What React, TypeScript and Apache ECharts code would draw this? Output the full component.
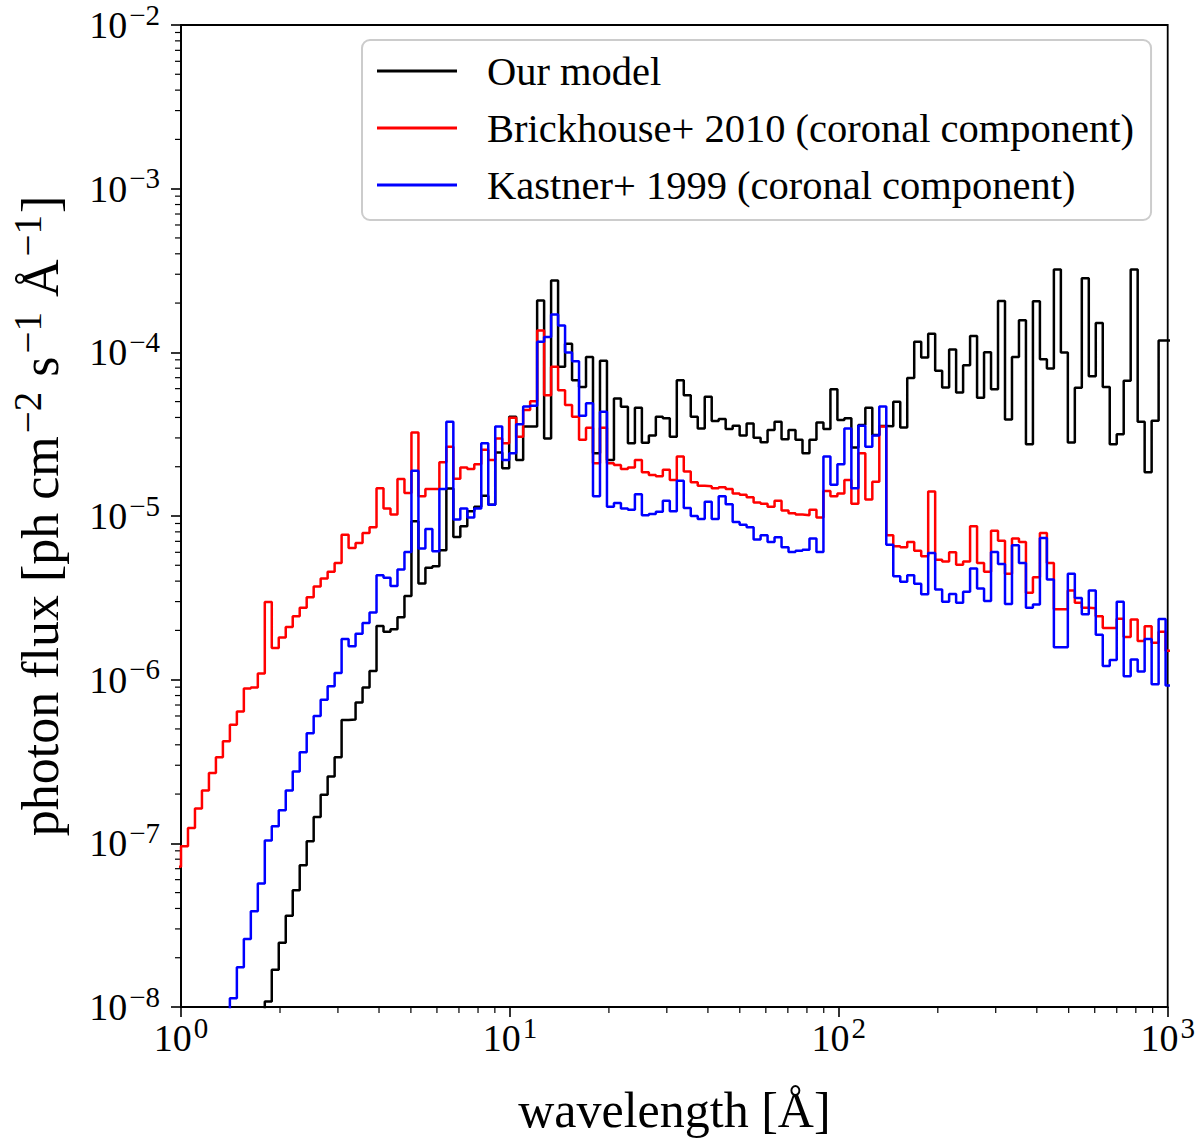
import React, { useEffect, useRef } from 'react'
import * as echarts from 'echarts'

// spectra are histograms on log-spaced wavelength bins (about 47 per decade),
// first value belongs to bin -1 (just left of 1 Å)
const binsPerDecade = 47.1
const firstBin = -1

const seriesNames = [
  'Our model',
  'Brickhouse+ 2010 (coronal component)',
  'Kastner+ 1999 (coronal component)',
]
const seriesColors = ['#000000', '#ff0000', '#0000ff']

const ourModel = [
  4.3e-11, 6.5e-11, 1.0e-10, 1.5e-10, 2.3e-10, 3.6e-10, 5.5e-10, 8.5e-10, 1.3e-9, 2.0e-9,
  3.0e-9, 4.6e-9, 7.0e-9, 1.08e-8, 1.69e-8, 2.47e-8, 3.61e-8, 5.17e-8, 7.35e-8, 1.03e-7,
  1.45e-7, 1.98e-7, 2.56e-7, 3.36e-7, 5.67e-7, 5.71e-7, 7.26e-7, 8.96e-7, 1.13e-6, 2.13e-6,
  1.96e-6, 2.03e-6, 2.41e-6, 3.24e-6, 9.28e-6, 3.87e-6, 4.82e-6, 4.93e-6, 6.17e-6, 1.47e-5,
  7.43e-6, 8.65e-6, 1.07e-5, 1.14e-5, 1.33e-5, 1.17e-5, 2.44e-5, 1.96e-5, 4.04e-5, 2.2e-5,
  3.52e-5, 3.52e-5, 2.07e-4, 2.98e-5, 2.75e-4, 8.15e-5, 1.13e-4, 6.76e-5, 6.15e-5, 9.37e-5,
  2.42e-5, 8.87e-5, 2.2e-5, 5.22e-5, 4.65e-5, 2.78e-5, 4.59e-5, 2.8e-5, 3.1e-5, 4.04e-5,
  3.95e-5, 3.05e-5, 6.76e-5, 5.47e-5, 4.04e-5, 3.43e-5, 5.35e-5, 3.8e-5, 3.91e-5, 3.4e-5,
  3.56e-5, 3.1e-5, 3.68e-5, 3.01e-5, 2.82e-5, 3.35e-5, 3.77e-5, 2.94e-5, 3.35e-5, 2.92e-5,
  2.42e-5, 2.92e-5, 3.73e-5, 3.4e-5, 5.95e-5, 3.86e-5, 3.95e-5, 2.62e-5, 3.6e-5, 4.58e-5,
  3.13e-5, 3.55e-5, 3.53e-5, 4.99e-5, 3.47e-5, 6.97e-5, 1.16e-4, 9.29e-5, 1.3e-4, 7.71e-5,
  6.1e-5, 1.04e-4, 5.69e-5, 8.34e-5, 1.26e-4, 5.27e-5, 1.0e-4, 5.95e-5, 2.06e-4, 3.89e-5,
  9.37e-5, 1.57e-4, 2.74e-5, 2.05e-4, 9.08e-5, 7.96e-5, 3.21e-4, 9.96e-5, 2.81e-5, 6.07e-5,
  2.84e-4, 7.15e-5, 1.51e-4, 6.15e-5, 2.74e-5, 3.16e-5, 6.7e-5, 3.21e-4, 3.77e-5, 1.85e-5,
  3.82e-5, 1.18e-4, 1.18e-4,
]

const brickhouse2010 = [
  7.2e-8, 9.6e-8, 1.24e-7, 1.63e-7, 2.1e-7, 2.69e-7, 3.36e-7, 4.2e-7, 5.31e-7, 6.4e-7,
  8.83e-7, 8.96e-7, 1.09e-6, 2.98e-6, 1.56e-6, 1.81e-6, 2.1e-6, 2.44e-6, 2.75e-6, 3.19e-6,
  3.71e-6, 4.15e-6, 4.56e-6, 5.17e-6, 7.69e-6, 6.38e-6, 6.84e-6, 7.87e-6, 8.53e-6, 1.48e-5,
  1.11e-5, 1.02e-5, 1.68e-5, 1.38e-5, 3.24e-5, 1.32e-5, 1.46e-5, 1.46e-5, 2.13e-5, 2.65e-5,
  1.69e-5, 1.98e-5, 1.94e-5, 2.07e-5, 2.54e-5, 2.2e-5, 2.98e-5, 2.78e-5, 3.98e-5, 3.05e-5,
  4.44e-5, 5.02e-5, 1.36e-4, 5.47e-5, 8.15e-5, 5.87e-5, 4.76e-5, 4.04e-5, 2.92e-5, 3.46e-5,
  2.1e-5, 3.46e-5, 2.1e-5, 2.05e-5, 1.94e-5, 1.98e-5, 2.2e-5, 1.85e-5, 1.78e-5, 1.75e-5,
  1.92e-5, 1.66e-5, 2.31e-5, 1.87e-5, 1.61e-5, 1.53e-5, 1.52e-5, 1.48e-5, 1.5e-5, 1.46e-5,
  1.37e-5, 1.35e-5, 1.3e-5, 1.21e-5, 1.19e-5, 1.14e-5, 1.24e-5, 1.08e-5, 1.04e-5, 1.02e-5,
  1.01e-5, 1.09e-5, 9.8e-6, 1.42e-5, 1.32e-5, 1.37e-5, 1.66e-5, 1.19e-5, 2.42e-5, 1.26e-5,
  1.62e-5, 3.52e-5, 7.62e-6, 6.53e-6, 6.44e-6, 6.93e-6, 6.14e-6, 5.67e-6, 1.41e-5, 5.41e-6,
  5.28e-6, 6.0e-6, 5.04e-6, 5.28e-6, 8.65e-6, 5.17e-6, 4.56e-6, 8.13e-6, 7.06e-6, 4.43e-6,
  7.28e-6, 6.93e-6, 3.4e-6, 4.23e-6, 7.87e-6, 5.17e-6, 2.69e-6, 2.69e-6, 3.51e-6, 2.95e-6,
  2.75e-6, 2.73e-6, 2.44e-6, 2.07e-6, 2.07e-6, 2.36e-6, 1.82e-6, 2.33e-6, 1.72e-6, 2.12e-6,
  1.68e-6, 1.96e-6, 1.5e-6,
]

const kastner1999 = [
  4.3e-10, 6.5e-10, 1.0e-9, 1.5e-9, 2.2e-9, 3.3e-9, 5.0e-9, 7.5e-9, 1.13e-8, 1.75e-8,
  2.6e-8, 3.85e-8, 5.69e-8, 1.04e-7, 1.27e-7, 1.59e-7, 2.1e-7, 2.75e-7, 3.6e-7, 4.7e-7,
  6.0e-7, 7.54e-7, 9.13e-7, 1.1e-6, 1.77e-6, 1.6e-6, 1.91e-6, 2.22e-6, 2.57e-6, 4.35e-6,
  4.19e-6, 3.73e-6, 4.71e-6, 6.03e-6, 1.89e-5, 6.32e-6, 8.32e-6, 6.08e-6, 1.46e-5, 3.77e-5,
  9.51e-6, 1.11e-5, 9.8e-6, 1.11e-5, 2.78e-5, 1.17e-5, 3.52e-5, 2.2e-5, 2.42e-5, 3.63e-5,
  4.66e-5, 4.71e-5, 1.16e-4, 1.24e-4, 1.7e-4, 1.46e-4, 9.96e-5, 8.83e-5, 4.1e-5, 4.88e-5,
  1.32e-5, 4.34e-5, 1.14e-5, 1.2e-5, 1.11e-5, 1.09e-5, 1.36e-5, 1.01e-5, 1.03e-5, 1.06e-5,
  1.24e-5, 1.07e-5, 1.64e-5, 1.12e-5, 1.0e-5, 9.6e-6, 1.22e-5, 9.6e-6, 1.32e-5, 1.18e-5,
  9.18e-6, 8.85e-6, 8.53e-6, 7.18e-6, 7.62e-6, 6.93e-6, 7.41e-6, 6.44e-6, 6.03e-6, 6.14e-6,
  6.23e-6, 7.28e-6, 6.03e-6, 2.31e-5, 1.55e-5, 2.07e-5, 3.43e-5, 1.48e-5, 3.56e-5, 2.65e-5,
  3.1e-5, 4.66e-5, 6.68e-6, 4.29e-6, 3.96e-6, 4.35e-6, 3.85e-6, 3.32e-6, 5.94e-6, 3.56e-6,
  2.99e-6, 3.34e-6, 2.95e-6, 3.44e-6, 4.78e-6, 3.6e-6, 3.02e-6, 6.03e-6, 5.09e-6, 2.9e-6,
  6.62e-6, 5.17e-6, 2.75e-6, 2.88e-6, 7.34e-6, 4.09e-6, 1.58e-6, 1.58e-6, 4.43e-6, 3.16e-6,
  2.51e-6, 3.51e-6, 1.88e-6, 1.21e-6, 1.32e-6, 2.99e-6, 1.05e-6, 1.33e-6, 1.12e-6, 1.77e-6,
  9.38e-7, 2.35e-6, 9.2e-7,
]

const xMinorTicks = [
  2, 3, 4, 5, 6, 7, 8, 9,
  20, 30, 40, 50, 60, 70, 80, 90,
  200, 300, 400, 500, 600, 700, 800, 900,
]
const yMinorTicks = [
  2e-8, 3e-8, 4e-8, 5e-8, 6e-8, 7e-8, 8e-8, 9e-8,
  2e-7, 3e-7, 4e-7, 5e-7, 6e-7, 7e-7, 8e-7, 9e-7,
  2e-6, 3e-6, 4e-6, 5e-6, 6e-6, 7e-6, 8e-6, 9e-6,
  2e-5, 3e-5, 4e-5, 5e-5, 6e-5, 7e-5, 8e-5, 9e-5,
  2e-4, 3e-4, 4e-4, 5e-4, 6e-4, 7e-4, 8e-4, 9e-4,
  2e-3, 3e-3, 4e-3, 5e-3, 6e-3, 7e-3, 8e-3, 9e-3,
]

const fontFamily = '"Liberation Serif", "DejaVu Serif", serif'

const binEdge = (k: number) => Math.pow(10, k / binsPerDecade)

// histogram -> list of corner points for a step outline
const toSteps = (values: number[]) => {
  const pts: [number, number][] = []
  values.forEach((v, i) => {
    const k = firstBin + i
    pts.push([binEdge(k), v], [binEdge(k + 1), v])
  })
  return pts
}

const powerLabel = (value: number) => {
  const exp = Math.round(Math.log10(value))
  const sup = exp < 0 ? '\u2212' + Math.abs(exp) : String(exp)
  return `{b|10}{s|${sup}}`
}

const tickRich = {
  b: { fontFamily, fontSize: 38, color: '#000' },
  s: { fontFamily, fontSize: 29, color: '#000', padding: [0, 0, 21, 2] },
}

const App: React.FC = () => {
  const containerRef = useRef<HTMLDivElement>(null)

  useEffect(() => {
    if (!containerRef.current) return
    document.body.style.margin = '0'
    const chart = echarts.init(containerRef.current, undefined, { renderer: 'svg' })

    const spectra = [ourModel, brickhouse2010, kastner1999]

    const option: echarts.EChartsOption = {
      animation: false,
      backgroundColor: '#ffffff',
      grid: {
        left: 176.7,
        right: 32.3,
        top: 22,
        bottom: 135,
        show: true,
        borderColor: '#000',
        borderWidth: 1.8,
        backgroundColor: 'transparent',
      },
      legend: {
        data: seriesNames,
        orient: 'vertical',
        left: 362,
        top: 40,
        padding: [8, 17, 12, 15],
        itemWidth: 80,
        itemHeight: 3,
        itemGap: 11,
        icon: 'rect',
        textStyle: { fontFamily, fontSize: 40.5, color: '#000', lineHeight: 46, padding: [0, 0, 0, 25] },
        backgroundColor: 'rgba(255,255,255,0.8)',
        borderColor: '#cccccc',
        borderWidth: 2,
        borderRadius: 8,
        selectedMode: false,
      },
      xAxis: {
        type: 'log',
        logBase: 10,
        min: 1,
        max: 1000,
        splitNumber: 3,
        name: 'wavelength [Å]',
        nameLocation: 'middle',
        nameGap: 78,
        nameTextStyle: { fontFamily, fontSize: 50, color: '#000' },
        axisLine: { onZero: false, lineStyle: { color: '#000', width: 1.8 } },
        axisTick: { inside: false, length: 10, lineStyle: { color: '#000', width: 1.6 } },
        axisLabel: { formatter: powerLabel, margin: 6, rich: tickRich },
        splitLine: { show: false },
      },
      yAxis: {
        type: 'log',
        logBase: 10,
        min: 1e-8,
        max: 1e-2,
        splitNumber: 6,
        name: 'photon flux [ph cm{s|\u22122} s{s|\u22121} Å{s|\u22121}]',
        nameLocation: 'middle',
        nameRotate: 90,
        nameGap: 108,
        nameTextStyle: {
          fontFamily,
          fontSize: 52,
          color: '#000',
          rich: { s: { fontFamily, fontSize: 39, color: '#000', padding: [0, 2, 26, 3] } },
        },
        axisLine: { onZero: false, lineStyle: { color: '#000', width: 1.8 } },
        axisTick: { inside: false, length: 10, lineStyle: { color: '#000', width: 1.6 } },
        axisLabel: { formatter: powerLabel, margin: 21, rich: tickRich },
        splitLine: { show: false },
      },
      series: [
        ...spectra.map((values, i) => ({
          type: 'line' as const,
          name: seriesNames[i],
          data: toSteps(values),
          showSymbol: false,
          symbol: 'none',
          silent: true,
          clip: true,
          lineStyle: { color: seriesColors[i], width: 2.5 },
          itemStyle: { color: seriesColors[i] },
        })),
        {
          type: 'custom' as const,
          name: 'xMinor',
          silent: true,
          clip: false,
          data: xMinorTicks.map((v) => [v, 1e-8]),
          renderItem: (_params: any, api: any) => {
            const p = api.coord([api.value(0), api.value(1)])
            return {
              type: 'line',
              shape: { x1: p[0], y1: p[1], x2: p[0], y2: p[1] + 6 },
              style: { stroke: '#000', lineWidth: 1.2 },
            }
          },
        },
        {
          type: 'custom' as const,
          name: 'yMinor',
          silent: true,
          clip: false,
          data: yMinorTicks.map((v) => [1, v]),
          renderItem: (_params: any, api: any) => {
            const p = api.coord([api.value(0), api.value(1)])
            return {
              type: 'line',
              shape: { x1: p[0] - 6, y1: p[1], x2: p[0], y2: p[1] },
              style: { stroke: '#000', lineWidth: 1.2 },
            }
          },
        },
      ],
    }

    chart.setOption(option)
    return () => {
      chart.dispose()
    }
  }, [])

  return <div ref={containerRef} style={{ width: 1200, height: 1142 }} />
}

export default App
